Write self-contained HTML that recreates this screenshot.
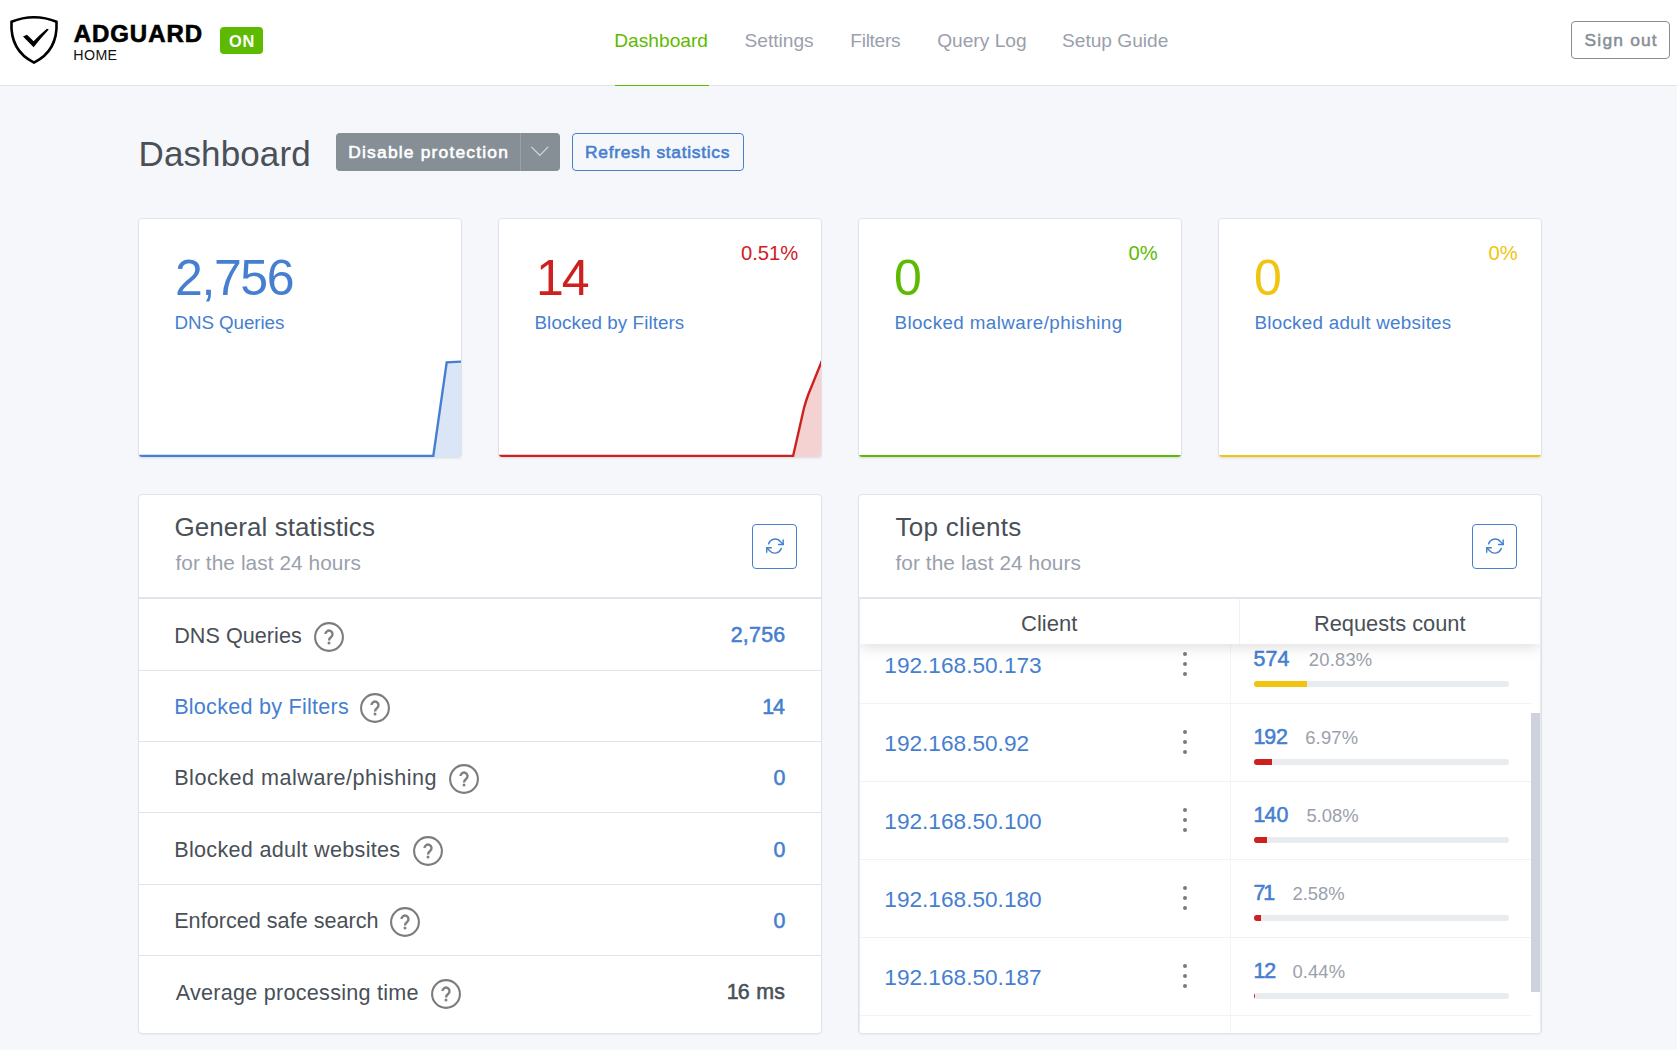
<!DOCTYPE html>
<html lang="en">
<head>
<meta charset="utf-8">
<title>AdGuard Home</title>
<style>
*{box-sizing:border-box;margin:0;padding:0}
html,body{width:1677px;height:1050px;overflow:hidden}
body{background:#f5f7fb;font-family:"Liberation Sans",sans-serif;color:#495057;font-size:18px;position:relative}
.abs{position:absolute}
.t{position:absolute;white-space:nowrap;line-height:1}
a{text-decoration:none;color:#467fcf}

/* header */
#hdr{left:0;top:0;width:1677px;height:86px;background:#fff;border-bottom:1px solid #dfe3ec}
#on{left:220px;top:27px;width:43px;height:27px;background:#5eba00;border-radius:4px}
.nav{color:#9aa0ac;font-size:19.15px}
#navline{left:615px;top:85px;width:94px;height:1px;background:#5eba00}
#signout{left:1571px;top:21px;width:99px;height:38px;border:1px solid #868e96;border-radius:4px;background:#fff}

/* title row */
#btn1{left:336px;top:133px;width:224px;height:38px;background:#868e96;border-radius:4px}
#btn1s{left:520px;top:133px;width:1px;height:38px;background:#a09f9a}
#btn2{left:572px;top:133px;width:172px;height:38px;border:1px solid #467fcf;border-radius:4px}

/* cards */
.card{position:absolute;background:#fff;border:1px solid #dfe3ec;border-radius:4px;box-shadow:0 1px 2px 0 rgba(0,0,0,.05);overflow:hidden}
.blue{color:#467fcf}.red{color:#cd201f}.green{color:#5eba00}.yellow{color:#f1c40f}
.muted{color:#9aa0ac}
.dark{color:#495057}
.one{margin-right:-1.3px}
.hline{background:#e0e5ec}
.sep{background:#dfe3ec}
.sep2{background:#f0f2f5}
.sep3{background:#f4f5f8}
.rbtn{width:45px;height:45px;border:1px solid #467fcf;border-radius:4px;background:#fff}
.dot{width:4.4px;height:4.4px;border-radius:50%;background:#7a7a7a}
.bar{width:254.6px;height:6px;border-radius:3px;background:#e9ecef;overflow:hidden}
.bar div{height:6px}

.num{font-size:50px;top:252.7px;letter-spacing:-2px}
.lab{font-size:18.8px;top:314px}
.pct{font-size:20.2px;top:242.6px}
</style>
</head>
<body>

<!-- HEADER -->
<div id="hdr" class="abs"></div>
<svg class="abs" style="left:8px;top:14px" width="52" height="52" viewBox="0 0 52 52">
  <path d="M26 3.2 C17.5 3.2 9.6 5.2 3.5 7.8 C2.6 25 7.5 39.5 26 48.6 C44.5 39.5 49.4 25 48.5 7.8 C42.4 5.2 34.5 3.2 26 3.2 Z" fill="none" stroke="#000" stroke-width="2.6" stroke-linejoin="miter"/>
  <path d="M15.0 22.5 L18.9 20.8 Q22 23.4 25.5 27.3 Q32.5 20.2 38.9 14.8 L40.8 15.5 Q32.4 24.4 25.6 33.3 Z" fill="#000"/>
</svg>
<div id="logo1" class="t" style="left:73.7px;top:21px;transform:translateY(.55px);font-size:24px;font-weight:bold;color:#000;letter-spacing:.95px;-webkit-text-stroke:.65px #000">ADGUARD</div>
<div id="logo2" class="t" style="left:73.3px;top:48.2px;font-size:14.2px;color:#111;letter-spacing:.4px">HOME</div>
<div id="on" class="abs"></div>
<div id="ont" class="t" style="left:229.1px;top:32.6px;font-size:16.4px;font-weight:bold;color:#fff;letter-spacing:.6px">ON</div>

<div id="nav1" class="t nav" style="left:614.3px;top:31px;color:#5eba00">Dashboard</div>
<div id="nav2" class="t nav" style="left:744.5px;top:31px">Settings</div>
<div id="nav3" class="t nav" style="left:850.3px;top:31px;letter-spacing:-.3px">Filters</div>
<div id="nav4" class="t nav" style="left:937.2px;top:31px">Query Log</div>
<div id="nav5" class="t nav" style="left:1062px;top:31px">Setup Guide</div>
<div id="navline" class="abs"></div>

<div id="signout" class="abs"></div>
<div id="signoutt" class="t" style="left:1584.6px;top:32.4px;font-size:17.4px;-webkit-text-stroke:.5px;color:#868e96;letter-spacing:1.18px">Sign out</div>

<!-- TITLE ROW -->
<div id="title" class="t" style="left:138.5px;top:136.1px;font-size:35px;color:#495057;letter-spacing:.12px">Dashboard</div>
<div id="btn1" class="abs"></div>
<div id="btn1s" class="abs"></div>
<div id="btn1t" class="t" style="left:348.3px;top:144.4px;font-size:17.4px;-webkit-text-stroke:.6px;color:#fff;letter-spacing:1.2px">Disable protection</div>
<svg class="abs" style="left:529px;top:143px" width="22" height="18" viewBox="0 0 22 18"><path d="M2.4 3.9 L10.8 12.4 L19.2 3.9" fill="none" stroke="#d3d6da" stroke-width="1.3"/></svg>
<div id="btn2" class="abs"></div>
<div id="btn2t" class="t" style="left:585px;top:144.4px;font-size:17.4px;-webkit-text-stroke:.6px;color:#467fcf;letter-spacing:.71px">Refresh statistics</div>

<!--CARDS-->
<div id="card1" class="card" style="left:138px;top:218px;width:324px;height:240px">
<svg class="abs" style="left:0;top:120px" width="322" height="118" viewBox="0 0 322 118">
  <path d="M0 117 L294.3 117 L307.7 23.4 L322 22.6 L322 118 L0 118 Z" fill="#dae5f5"/>
  <path d="M-2 117 L294.3 117 L307.7 23.4 L324 22.5" fill="none" stroke="#467fcf" stroke-width="2.4" stroke-linejoin="miter"/>
</svg></div>
<div id="card2" class="card" style="left:498px;top:218px;width:324px;height:240px">
<svg class="abs" style="left:0;top:120px" width="322" height="118" viewBox="0 0 322 118">
  <path d="M0 117 L294.1 117 L305 69 Q307 61.5 309.5 55 L323 21.6 L322 118 L0 118 Z" fill="#f5d2d2"/>
  <path d="M-2 117 L294.1 117 L305 69 Q307 61.5 309.5 55 L323 21.6" fill="none" stroke="#cd201f" stroke-width="2.4" stroke-linejoin="miter"/>
</svg></div>
<div id="card3" class="card" style="left:858px;top:218px;width:324px;height:240px">
<div class="abs" style="left:0;top:235.8px;width:322px;height:3px;background:#5eba00"></div></div>
<div id="card4" class="card" style="left:1218px;top:218px;width:324px;height:240px">
<div class="abs" style="left:0;top:235.8px;width:322px;height:3px;background:#f1c40f"></div></div>

<div id="c1num" class="t blue num" style="left:175px;letter-spacing:-1.4px">2,756</div>
<div id="c1lab" class="t blue lab" style="left:174.5px;letter-spacing:-.08px">DNS Queries</div>
<div id="c2num" class="t red num" style="left:536px">14</div>
<div id="c2lab" class="t blue lab" style="left:534.5px;letter-spacing:.09px">Blocked by Filters</div>
<div id="c2pct" class="t red pct" style="left:741px">0.51%</div>
<div id="c3num" class="t green num" style="left:894px">0</div>
<div id="c3lab" class="t blue lab" style="left:894.5px;letter-spacing:.41px">Blocked malware/phishing</div>
<div id="c3pct" class="t green pct" style="left:1128.6px">0%</div>
<div id="c4num" class="t yellow num" style="left:1254px">0</div>
<div id="c4lab" class="t blue lab" style="left:1254.5px;letter-spacing:.27px">Blocked adult websites</div>
<div id="c4pct" class="t yellow pct" style="left:1488.6px">0%</div>

<!--PANELS-->
<div id="gs" class="card" style="left:138px;top:494px;width:684px;height:540px"></div>
<div id="tc" class="card" style="left:858px;top:494px;width:684px;height:540px"></div>
<div class="abs hline" style="left:139px;top:597px;width:682px;height:2px"></div>
<div id="gsbtn" class="abs rbtn" style="left:752px;top:524px"><svg width="43" height="43" viewBox="0 0 43 43"><g fill="none" stroke="#467fcf" stroke-width="1.5" stroke-linecap="round" stroke-linejoin="round" transform="translate(22.1 20.9) scale(.955) translate(-21.15 -20.9)"><path d="M29.6 14.6 V19.4 H24.8"/><path d="M12.4 27.6 V22.8 H17.2"/><path d="M14.4 18.6 A7.2 7.2 0 0 1 26.3 15.9 L29.6 19.4 M12.4 22.8 L15.7 26.3 A7.2 7.2 0 0 0 27.6 23.6"/></g></svg></div>
<div id="gsT" class="t dark" style="left:174.5px;top:513.7px;font-size:26px;letter-spacing:.06px;">General statistics</div>
<div id="gsS" class="t muted" style="left:175.5px;top:553.0px;font-size:20.8px;letter-spacing:.08px;">for the last 24 hours</div>
<div class="abs hline" style="left:859px;top:597px;width:682px;height:2px"></div>
<div id="tcbtn" class="abs rbtn" style="left:1472px;top:524px"><svg width="43" height="43" viewBox="0 0 43 43"><g fill="none" stroke="#467fcf" stroke-width="1.5" stroke-linecap="round" stroke-linejoin="round" transform="translate(22.1 20.9) scale(.955) translate(-21.15 -20.9)"><path d="M29.6 14.6 V19.4 H24.8"/><path d="M12.4 27.6 V22.8 H17.2"/><path d="M14.4 18.6 A7.2 7.2 0 0 1 26.3 15.9 L29.6 19.4 M12.4 22.8 L15.7 26.3 A7.2 7.2 0 0 0 27.6 23.6"/></g></svg></div>
<div id="tcT" class="t dark" style="left:895.4px;top:513.7px;font-size:26px;letter-spacing:.3px;">Top clients</div>
<div id="tcS" class="t muted" style="left:895.5px;top:553.0px;font-size:20.8px;letter-spacing:.08px;">for the last 24 hours</div>
<div id="r1l" class="t dark" style="left:174.2px;top:624.5px;font-size:21.6px;letter-spacing:0.04px;">DNS Queries</div>
<div id="r1v" class="t blue" style="right:891.5px;top:625.4px;font-size:21.4px;-webkit-text-stroke:.55px;letter-spacing:0.25px">2,756</div>
<svg class="abs" style="left:313.0px;top:620.9px" width="32" height="32" viewBox="0 0 32 32"><circle cx="16" cy="16" r="13.9" fill="none" stroke="#7c7c7c" stroke-width="2.1"/><path d="M12.5 13.1 A3.5 3.5 0 1 1 18.3 15.7 Q16 17.4 16 19.5" fill="none" stroke="#808080" stroke-width="2.4"/><circle cx="16" cy="22.1" r="1.5" fill="#808080"/></svg>
<div class="abs sep" style="left:139px;top:670px;width:682px;height:1px"></div>
<div id="r2l" class="t blue" style="left:174.2px;top:695.7px;font-size:21.6px;letter-spacing:0.24px;">Blocked by Filters</div>
<div id="r2v" class="t blue" style="right:892.2px;top:696.6px;font-size:21.4px;-webkit-text-stroke:.55px;letter-spacing:0px"><span class="one">1</span>4</div>
<svg class="abs" style="left:359.0px;top:692.1px" width="32" height="32" viewBox="0 0 32 32"><circle cx="16" cy="16" r="13.9" fill="none" stroke="#7c7c7c" stroke-width="2.1"/><path d="M12.5 13.1 A3.5 3.5 0 1 1 18.3 15.7 Q16 17.4 16 19.5" fill="none" stroke="#808080" stroke-width="2.4"/><circle cx="16" cy="22.1" r="1.5" fill="#808080"/></svg>
<div class="abs sep" style="left:139px;top:741px;width:682px;height:1px"></div>
<div id="r3l" class="t dark" style="left:174.2px;top:766.7px;font-size:21.6px;letter-spacing:0.5px;">Blocked malware/phishing</div>
<div id="r3v" class="t blue" style="right:891.6px;top:767.6px;font-size:21.4px;-webkit-text-stroke:.55px;letter-spacing:0px">0</div>
<svg class="abs" style="left:448.0px;top:763.1px" width="32" height="32" viewBox="0 0 32 32"><circle cx="16" cy="16" r="13.9" fill="none" stroke="#7c7c7c" stroke-width="2.1"/><path d="M12.5 13.1 A3.5 3.5 0 1 1 18.3 15.7 Q16 17.4 16 19.5" fill="none" stroke="#808080" stroke-width="2.4"/><circle cx="16" cy="22.1" r="1.5" fill="#808080"/></svg>
<div class="abs sep" style="left:139px;top:812px;width:682px;height:1px"></div>
<div id="r4l" class="t dark" style="left:174.2px;top:838.7px;font-size:21.6px;letter-spacing:0.3px;">Blocked adult websites</div>
<div id="r4v" class="t blue" style="right:891.6px;top:839.6px;font-size:21.4px;-webkit-text-stroke:.55px;letter-spacing:0px">0</div>
<svg class="abs" style="left:411.8px;top:835.1px" width="32" height="32" viewBox="0 0 32 32"><circle cx="16" cy="16" r="13.9" fill="none" stroke="#7c7c7c" stroke-width="2.1"/><path d="M12.5 13.1 A3.5 3.5 0 1 1 18.3 15.7 Q16 17.4 16 19.5" fill="none" stroke="#808080" stroke-width="2.4"/><circle cx="16" cy="22.1" r="1.5" fill="#808080"/></svg>
<div class="abs sep" style="left:139px;top:884px;width:682px;height:1px"></div>
<div id="r5l" class="t dark" style="left:174.2px;top:909.7px;font-size:21.6px;letter-spacing:0.02px;">Enforced safe search</div>
<div id="r5v" class="t blue" style="right:891.6px;top:910.6px;font-size:21.4px;-webkit-text-stroke:.55px;letter-spacing:0px">0</div>
<svg class="abs" style="left:389.0px;top:906.1px" width="32" height="32" viewBox="0 0 32 32"><circle cx="16" cy="16" r="13.9" fill="none" stroke="#7c7c7c" stroke-width="2.1"/><path d="M12.5 13.1 A3.5 3.5 0 1 1 18.3 15.7 Q16 17.4 16 19.5" fill="none" stroke="#808080" stroke-width="2.4"/><circle cx="16" cy="22.1" r="1.5" fill="#808080"/></svg>
<div class="abs sep" style="left:139px;top:955px;width:682px;height:1px"></div>
<div id="r6l" class="t dark" style="left:175.8px;top:981.5px;font-size:21.6px;letter-spacing:0.25px;">Average processing time</div>
<div id="r6v" class="t dark" style="right:891.7px;top:982.4px;font-size:21.4px;-webkit-text-stroke:.55px;letter-spacing:0.3px"><span class="one">1</span>6 ms</div>
<svg class="abs" style="left:429.6px;top:977.9px" width="32" height="32" viewBox="0 0 32 32"><circle cx="16" cy="16" r="13.9" fill="none" stroke="#7c7c7c" stroke-width="2.1"/><path d="M12.5 13.1 A3.5 3.5 0 1 1 18.3 15.7 Q16 17.4 16 19.5" fill="none" stroke="#808080" stroke-width="2.4"/><circle cx="16" cy="22.1" r="1.5" fill="#808080"/></svg>
<div id="tcbody" class="abs" style="left:859px;top:644px;width:682px;height:389px;overflow:hidden">
<div class="abs sep2" style="left:0;top:59.3px;width:672px;height:1px"></div>
<div id="ip1" class="t blue" style="left:25.3px;top:10.3px;font-size:22.65px;">192.168.50.173</div>
<div class="abs dot" style="left:323.8px;top:8.1px"></div><div class="abs dot" style="left:323.8px;top:17.9px"></div><div class="abs dot" style="left:323.8px;top:27.7px"></div>
<div id="cnt1" class="t blue" style="left:394.6px;top:5.4px;font-size:21.4px;-webkit-text-stroke:.55px;letter-spacing:0.1px;">574</div>
<div id="pct1" class="t muted" style="left:449.8px;top:6.9px;font-size:18.4px;letter-spacing:0.2px;">20.83%</div>
<div class="abs bar" style="left:395.3px;top:37.0px"><div style="width:52.9px;background:#f1c40f"></div></div>
<div class="abs sep2" style="left:0;top:137.3px;width:672px;height:1px"></div>
<div id="ip2" class="t blue" style="left:25.3px;top:88.3px;font-size:22.65px;">192.168.50.92</div>
<div class="abs dot" style="left:323.8px;top:86.1px"></div><div class="abs dot" style="left:323.8px;top:95.9px"></div><div class="abs dot" style="left:323.8px;top:105.7px"></div>
<div id="cnt2" class="t blue" style="left:394.6px;top:83.4px;font-size:21.4px;-webkit-text-stroke:.55px;letter-spacing:0px;"><span class="one">1</span>92</div>
<div id="pct2" class="t muted" style="left:446.2px;top:84.9px;font-size:18.4px;letter-spacing:0.2px;">6.97%</div>
<div class="abs bar" style="left:395.3px;top:115.0px"><div style="width:17.5px;background:#cd201f"></div></div>
<div class="abs sep2" style="left:0;top:215.3px;width:672px;height:1px"></div>
<div id="ip3" class="t blue" style="left:25.3px;top:166.3px;font-size:22.65px;">192.168.50.100</div>
<div class="abs dot" style="left:323.8px;top:164.1px"></div><div class="abs dot" style="left:323.8px;top:173.9px"></div><div class="abs dot" style="left:323.8px;top:183.7px"></div>
<div id="cnt3" class="t blue" style="left:394.6px;top:161.4px;font-size:21.4px;-webkit-text-stroke:.55px;letter-spacing:0.2px;"><span class="one">1</span>40</div>
<div id="pct3" class="t muted" style="left:447.4px;top:162.9px;font-size:18.4px;letter-spacing:0px;">5.08%</div>
<div class="abs bar" style="left:395.3px;top:193.0px"><div style="width:12.6px;background:#cd201f"></div></div>
<div class="abs sep2" style="left:0;top:293.3px;width:672px;height:1px"></div>
<div id="ip4" class="t blue" style="left:25.3px;top:244.3px;font-size:22.65px;">192.168.50.180</div>
<div class="abs dot" style="left:323.8px;top:242.1px"></div><div class="abs dot" style="left:323.8px;top:251.9px"></div><div class="abs dot" style="left:323.8px;top:261.7px"></div>
<div id="cnt4" class="t blue" style="left:394.6px;top:239.4px;font-size:21.4px;-webkit-text-stroke:.55px;letter-spacing:0px;">7<span style="margin-left:-2.2px">1</span></div>
<div id="pct4" class="t muted" style="left:433.5px;top:240.9px;font-size:18.4px;letter-spacing:0px;">2.58%</div>
<div class="abs bar" style="left:395.3px;top:271.0px"><div style="width:6.6px;background:#cd201f"></div></div>
<div class="abs sep2" style="left:0;top:371.3px;width:672px;height:1px"></div>
<div id="ip5" class="t blue" style="left:25.3px;top:322.3px;font-size:22.65px;">192.168.50.187</div>
<div class="abs dot" style="left:323.8px;top:320.1px"></div><div class="abs dot" style="left:323.8px;top:329.9px"></div><div class="abs dot" style="left:323.8px;top:339.7px"></div>
<div id="cnt5" class="t blue" style="left:394.6px;top:317.4px;font-size:21.4px;-webkit-text-stroke:.55px;letter-spacing:0px;"><span class="one">1</span>2</div>
<div id="pct5" class="t muted" style="left:433.5px;top:318.9px;font-size:18.4px;letter-spacing:0.1px;">0.44%</div>
<div class="abs bar" style="left:395.3px;top:349.0px"><div style="width:1.2px;background:#cd201f"></div></div>
<div class="abs sep3" style="left:371px;top:0;width:1px;height:389px"></div>
<div class="abs" style="left:672.0px;top:68.7px;width:9px;height:279.3px;background:#cdd2dc"></div>
</div>
<div class="abs" style="left:859px;top:599px;width:682px;height:120px;overflow:hidden"><div id="thead" class="abs" style="left:0;top:0;width:682px;height:45px;background:#fff;box-shadow:0 2px 15px 0 rgba(0,0,0,.15)"></div></div>
<div class="abs" style="left:859px;top:590px;width:682px;height:9px;background:#fff"></div>
<div class="abs hline" style="left:859px;top:597px;width:682px;height:2px"></div>
<div class="abs sep2" style="left:1239px;top:599px;width:1px;height:45px"></div>
<div class="abs" style="left:859px;top:599px;width:1px;height:434px;background:#e7e9ec"></div>
<div class="abs" style="left:1540px;top:599px;width:1px;height:434px;background:#e7e9ec"></div>
<div id="thc" class="t dark" style="left:1021.0px;top:612.5px;font-size:22px;">Client</div>
<div id="thr" class="t dark" style="left:1314.0px;top:612.6px;font-size:21.8px;">Requests count</div>

</body>
</html>
